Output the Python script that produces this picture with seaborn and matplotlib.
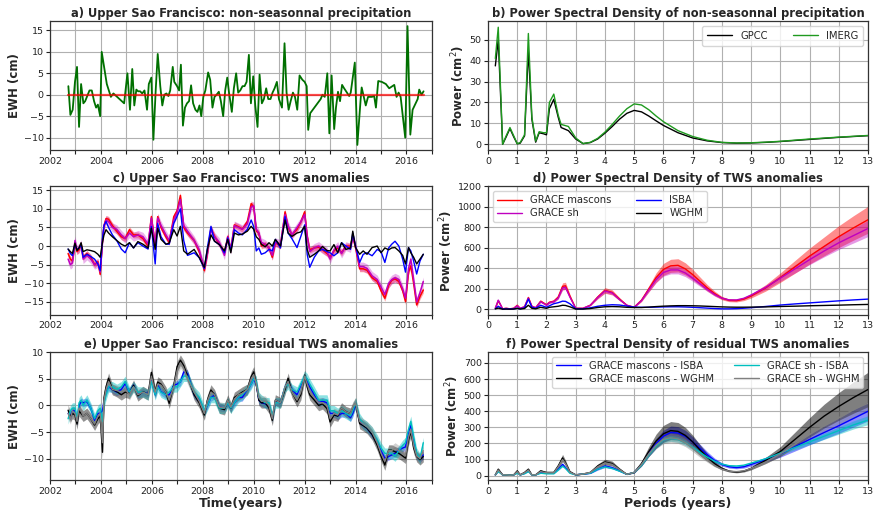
import numpy as np
import matplotlib
matplotlib.use("Agg")
import matplotlib.pyplot as plt
import seaborn as sns
from matplotlib.ticker import MultipleLocator, FuncFormatter

# ---------------- data ----------------
# a) non-seasonal precipitation (time, value)
ta = [2002.72, 2002.80, 2002.89, 2002.98, 2003.06, 2003.14, 2003.22, 2003.31, 2003.38, 2003.55,
      2003.64, 2003.73, 2003.81, 2003.88, 2003.97, 2004.03, 2004.23, 2004.39, 2004.49, 2004.91,
      2005.04, 2005.14, 2005.23, 2005.31, 2005.39, 2005.46, 2005.54, 2005.62, 2005.71, 2005.81,
      2005.88, 2005.98, 2006.06, 2006.15, 2006.23, 2006.33, 2006.41, 2006.49, 2006.57, 2006.65,
      2006.72, 2006.82, 2006.88, 2006.99, 2007.07, 2007.14, 2007.22, 2007.30, 2007.38, 2007.46,
      2007.54, 2007.62, 2007.71, 2007.79, 2007.87, 2007.94, 2008.02, 2008.10, 2008.21, 2008.29,
      2008.38, 2008.46, 2008.54, 2008.63, 2008.71, 2008.80, 2008.88, 2008.96, 2009.03, 2009.14,
      2009.22, 2009.31, 2009.39, 2009.47, 2009.56, 2009.64, 2009.72, 2009.81, 2009.89, 2009.98,
      2010.06, 2010.15, 2010.23, 2010.32, 2010.40, 2010.49, 2010.57, 2010.66, 2010.74, 2010.82,
      2010.91, 2010.99, 2011.11, 2011.21, 2011.29, 2011.37, 2011.45, 2011.54, 2011.62, 2011.71,
      2011.80, 2011.91, 2012.00, 2012.08, 2012.14, 2012.22, 2012.63, 2012.70, 2012.79, 2012.89,
      2012.97, 2013.06, 2013.16, 2013.23, 2013.31, 2013.39, 2013.47, 2013.55, 2013.75, 2013.81,
      2013.97, 2014.07, 2014.20, 2014.24, 2014.34, 2014.40, 2014.49, 2014.56, 2014.64, 2014.73,
      2014.80, 2014.89, 2015.03, 2015.19, 2015.32, 2015.52, 2015.61, 2015.69, 2015.77, 2015.95,
      2016.04, 2016.15, 2016.24, 2016.44, 2016.50, 2016.59, 2016.67]
precip = [2, -4.7, -3.5, 3, 6.5, -7.5, 2.5, -2, -1.5, 1,
          1, -1.5, -3, -2.3, -5, 10, 2.5, -0.5, 0.3, -2,
          5, -3.5, 6, -2.5, 1.2, 0.8, 0.8, 0.3, 1, -3.5,
          2.5, 4, -10.5, 1, 9.5, 2, -2.5, 0, 0.3, -0.3,
          1, 6.5, 3, 2, 1, 7, -7.2, -3, -2, -1.5,
          2.2, -2, -3.5, -4, -2.5, -5, -0.5, 1, 5.2, 3.5,
          -3, -0.5, 0, 0.7, -1.5, -5, 1, 4, 0.5, -4,
          1.5, 5, 0.5, 1, 2, 2, 3, 9.3, -2, 4.3,
          -2.5, -7.5, 4.7, -2, -1, 1.5, -1, -1, 0.5, 1.5,
          3, -1, -3, 12, 0.5, -3.5, -1.5, 0.5, -0.5, -3.5,
          4.5, 3.5, 3, 2, -8.2, -4.3, -1, 0, -0.5, 5,
          -9, 4.5, -8, -3, 0.7, -1.5, 2.3, 1.5, -0.3, 0.5,
          7.5, -11.7, -1, 1.7, -1, -2.5, -0.5, -0.5, -0.5, -0.3,
          -3, 3.2, 3, 2.5, 1.5, 2.3, -0.5, 0.5, -0.5, -10,
          16, -9.3, -3.5, -1, 1.2, 0, 0.8]

# c) & e) TWS time axis
tc = [2002.71, 2002.80, 2002.88, 2002.98, 2003.06, 2003.14, 2003.22, 2003.30, 2003.45, 2003.60,
      2003.75, 2003.88, 2003.97, 2004.06, 2004.12, 2004.20, 2004.30, 2004.45, 2004.62, 2004.80,
      2004.95, 2005.12, 2005.28, 2005.45, 2005.65, 2005.85, 2005.98, 2006.13, 2006.23, 2006.36,
      2006.55, 2006.68, 2006.86, 2006.99, 2007.12, 2007.25, 2007.40, 2007.66, 2007.86, 2008.06,
      2008.18, 2008.32, 2008.46, 2008.65, 2008.85, 2008.98, 2009.10, 2009.24, 2009.40, 2009.55,
      2009.75, 2009.90, 2010.00, 2010.10, 2010.20, 2010.30, 2010.45, 2010.60, 2010.73, 2010.85,
      2011.05, 2011.23, 2011.35, 2011.50, 2011.70, 2011.85, 2012.00, 2012.10, 2012.20, 2012.38,
      2012.55, 2012.70, 2012.88, 2013.00, 2013.15, 2013.30, 2013.45, 2013.62, 2013.80, 2013.89,
      2014.00, 2014.16, 2014.30, 2014.45, 2014.65, 2014.85, 2015.00, 2015.15, 2015.30, 2015.42,
      2015.55, 2015.70, 2015.85, 2015.96, 2016.08, 2016.17, 2016.28, 2016.40, 2016.53, 2016.66]
tws_mascons = [-2.0, -3.5, -4.0, 0.5, -1.5, -1.0, 0.5, -3.0, -2.0, -3.0,
               -5.0, -4.2, -7.6, 1.5, 5.5, 7.4, 7.2, 5.5, 4.0, 2.5,
               2.0, 4.4, 3.0, 3.0, 2.0, 0.0, 7.9, 0.0, 7.9, 5.0,
               2.5, 1.0, 7.9, 9.5, 13.6, 5.0, 3.5, 1.5, -1.5, -6.6,
               -2.0, 4.8, 2.6, 0.5, -1.8, 2.6, -1.0, 5.7, 5.2, 4.5,
               6.6, 11.4, 10.5, 4.0, 3.5, 0.0, 0.5, -0.5, -3.0, 0.9,
               0.0, 9.2, 5.0, 3.0, 4.5, 6.5, 9.2, 2.6, -1.0, -0.5,
               -0.3, -1.0, -2.0, -3.0, -1.3, -0.5, -1.8, 0.0, 0.0, 2.6,
               -0.5, -6.1, -6.1, -6.5, -8.5, -9.5, -12.0, -14.0, -10.5, -9.2,
               -8.8, -9.5, -12.0, -14.9, -7.0, -5.3, -10.0, -15.8, -13.5, -11.8]
tws_sh = [-3.5, -5.0, -4.5, 1.5, -1.0, -0.5, 0.5, -3.5, -2.5, -3.5,
          -5.0, -4.5, -7.0, 1.0, 5.5, 7.0, 6.5, 5.0, 4.5, 3.0,
          2.0, 3.5, 2.5, 3.0, 2.5, 0.5, 7.5, 0.5, 7.5, 5.5,
          3.0, 1.5, 7.0, 9.0, 12.5, 5.5, 4.0, 1.5, -1.0, -6.0,
          -2.0, 4.5, 2.5, 1.0, -2.5, 2.5, -1.0, 5.5, 5.0, 4.5,
          6.0, 10.5, 10.8, 4.5, 3.5, 1.0, 0.5, -0.5, -2.5, 1.0,
          0.5, 8.5, 5.5, 3.0, 5.0, 6.5, 8.5, 2.5, -1.5, -0.5,
          0.0, -0.8, -1.5, -3.5, -1.0, 0.0, -2.0, 0.0, -0.5, 2.5,
          0.0, -5.5, -5.5, -6.0, -8.0, -9.0, -11.0, -13.0, -10.0, -9.0,
          -8.5, -9.0, -11.5, -14.0, -6.0, -3.5, -9.0, -15.0, -12.5, -9.5]
tws_isba = [-0.8, -2.0, -2.6, 0.5, -1.0, -0.5, 0.3, -3.0, -2.2, -2.8,
            -3.5, -4.8, -6.6, 2.0, 5.5, 6.6, 5.0, 3.0, 1.5, -0.8,
            -1.8, 0.9, -0.5, 0.9, 0.0, -0.8, 5.3, -4.8, 6.1, 2.5,
            0.5, 0.5, 6.1, 8.0, 10.0, 1.5, -2.5, -1.8, -3.1, -6.1,
            -0.5, 5.3, 1.3, 0.4, -1.8, 2.2, -1.3, 4.4, 3.5, 3.0,
            4.5, 7.0, 5.2, -1.3, -0.5, -2.2, -1.8, -0.9, -1.3, 1.8,
            -0.5, 7.9, 3.5, 2.0, -0.4, 2.6, 5.7, -2.2, -5.7, -3.0,
            -1.3, -0.9, -1.5, -1.8, -2.6, -1.8, 0.9, 0.0, -0.9, 3.5,
            0.0, -4.4, -2.2, -1.8, -2.6, -0.9, -1.5, -4.4, -0.5, 0.5,
            1.3, 0.0, -3.5, -7.0, -0.4, -1.3, -4.0, -7.5, -4.0, -2.2]
tws_wghm = [-0.8, -1.5, -2.0, 0.8, -1.2, -0.5, 0.9, -1.5, -1.0, -1.2,
            -1.5, -2.2, -3.0, 1.0, 3.0, 4.4, 3.5, 2.5, 1.5, 0.5,
            0.0, 0.9, -0.5, 1.2, 0.5, -0.5, 4.8, -0.9, 4.8, 1.8,
            0.5, 0.8, 4.4, 2.7, 5.3, -1.3, -2.2, -0.9, -3.1, -5.7,
            -0.9, 3.0, 1.3, 0.4, -1.3, 1.8, -1.8, 3.5, 3.0, 3.2,
            4.0, 5.3, 4.5, 2.5, 1.8, 0.5, -0.2, 0.9, 0.0, 1.8,
            0.0, 7.0, 3.5, 2.6, 3.5, 3.8, 5.3, -0.9, -3.0, -2.2,
            -1.3, -0.1, -1.2, -1.3, 0.4, -1.8, 0.9, -0.9, -0.5, 4.0,
            -0.4, -2.2, -1.3, -2.2, -0.4, 0.0, -1.8, -0.5, -1.0, -0.5,
            -0.4, -1.3, -2.5, -4.8, -0.4, -1.8, -3.0, -4.8, -3.5, -2.2]
unc_mascons, unc_sh = 0.8, 1.2

res_masc_isba = [-1.5, -2.0, -1.0, -1.0, -3.1, 0.0, 0.7, 0.5, 0.7, -0.5,
                 -2.8, -1.5, -1.5, -1.0, 1.0, 2.6, 3.5, 3.0, 2.5, 3.0,
                 4.1, 2.5, 3.8, 2.0, 2.5, 2.2, 4.8, 2.0, 3.8, 2.6,
                 2.0, 2.0, 3.8, 4.0, 4.4, 6.3, 6.0, 2.0, 1.0, -1.2,
                 0.0, 1.5, 1.9, -0.3, -0.5, 0.5, -0.5, 0.5, 1.5, 1.5,
                 3.0, 4.0, 5.0, 4.0, 1.0, 0.5, 0.3, 0.0, -2.4, 0.7,
                 0.5, 3.5, 4.4, 3.0, 2.0, 3.8, 5.4, 4.5, 3.5, 2.0,
                 0.5, 0.8, 0.5, -1.5, -1.5, -2.0, -1.5, -1.5, -2.3, -1.5,
                 0.3, -3.0, -3.7, -4.3, -5.5, -6.8, -8.5, -9.9, -9.6, -9.3,
                 -9.0, -8.4, -8.0, -7.8, -5.0, -3.7, -6.5, -9.5, -10.0, -9.3]
res_masc_wghm = [-0.9, -2.1, -1.5, -1.8, -3.5, -1.0, -1.5, -2.0, -1.5, -2.5,
                 -3.7, -2.5, -2.0, -8.8, 1.5, 3.5, 5.1, 3.0, 2.6, 2.0,
                 2.5, 2.3, 3.8, 1.8, 2.6, 2.0, 6.2, 2.6, 4.4, 4.0,
                 2.5, 0.4, 3.8, 7.3, 8.5, 7.5, 5.5, 2.0, 0.5, -1.8,
                 1.0, 2.9, 2.0, -0.5, -0.8, 1.0, -0.5, 1.5, 2.0, 2.5,
                 3.0, 5.4, 6.3, 4.0, 1.0, 0.5, 0.5, -0.5, -2.8, 1.0,
                 0.5, 3.0, 5.1, 2.5, 0.7, 2.0, 5.7, 3.5, 2.0, 1.0,
                 0.0, 0.3, -0.6, -3.1, -1.8, -2.0, -0.5, -1.2, -1.5, -0.5,
                 0.4, -3.4, -3.8, -4.3, -5.5, -7.5, -9.5, -11.2, -8.4, -8.4,
                 -8.7, -9.0, -9.5, -9.9, -6.5, -4.9, -8.0, -9.6, -10.2, -9.6]
res_sh_isba = [-2.5, -1.0, -0.5, -0.5, -2.5, 0.5, 1.0, 0.0, 1.0, -0.5,
               -2.5, -1.0, -0.5, -3.0, 0.5, 2.0, 3.5, 3.5, 3.0, 3.5,
               4.5, 2.5, 3.5, 2.5, 2.5, 2.0, 4.5, 2.0, 3.5, 2.5,
               2.0, 2.5, 3.5, 3.5, 4.5, 5.5, 5.5, 2.5, 1.5, -1.0,
               0.0, 1.5, 1.5, -0.5, -0.5, 0.5, -0.5, 0.5, 1.5, 2.0,
               3.0, 4.0, 5.0, 4.5, 1.5, 1.0, 0.5, 0.5, -2.0, 0.5,
               0.5, 3.5, 4.0, 3.0, 2.5, 4.0, 5.5, 5.0, 4.0, 2.5,
               1.0, 1.0, 1.0, -1.0, -1.0, -1.5, -1.0, -1.5, -2.0, -1.0,
               0.5, -2.5, -3.5, -4.0, -5.0, -6.5, -8.0, -9.0, -9.0, -9.0,
               -9.5, -8.5, -7.5, -7.0, -4.5, -3.0, -6.0, -9.0, -10.0, -7.0]
res_sh_wghm = [-1.5, -2.5, -1.0, -1.5, -3.0, -0.5, -1.0, -2.0, -1.5, -2.5,
               -3.5, -2.0, -1.5, -7.0, 1.0, 3.0, 4.5, 3.0, 2.8, 2.5,
               3.0, 2.0, 3.5, 2.0, 2.5, 2.0, 5.5, 2.5, 4.0, 3.8,
               2.5, 1.0, 3.5, 6.5, 8.0, 7.0, 5.0, 2.5, 0.8, -1.5,
               0.8, 2.5, 2.0, -0.3, -0.5, 1.0, -0.3, 1.2, 2.0, 2.3,
               3.0, 5.0, 5.8, 4.0, 1.5, 0.8, 0.8, 0.0, -2.5, 1.0,
               0.5, 3.5, 4.5, 2.5, 1.0, 2.5, 5.5, 4.0, 2.5, 1.5,
               0.5, 0.5, 0.0, -2.5, -1.5, -1.8, -0.5, -1.2, -1.5, -0.3,
               0.5, -3.0, -3.5, -4.0, -5.0, -7.0, -9.0, -10.5, -8.5, -8.5,
               -8.0, -8.5, -9.0, -9.5, -6.0, -4.5, -7.5, -9.5, -10.0, -8.5]
unc_res = [0.7, 1.0, 1.0, 1.0]

# b) PSD precipitation
pb = [0.25, 0.35, 0.5, 0.62, 0.75, 0.88, 1.0, 1.1, 1.25, 1.38,
      1.5, 1.63, 1.75, 1.9, 2.0, 2.1, 2.25, 2.4, 2.5, 2.75,
      3.0, 3.25, 3.5, 3.75, 4.0, 4.25, 4.5, 4.75, 5.0, 5.25,
      5.5, 5.75, 6.0, 6.5, 7.0, 7.5, 8.0, 8.5, 9.0, 9.5,
      10, 11, 12, 13]
psd_gpcc = [37.5, 50, 0, 3.5, 7.5, 3.5, 0.2, 0.5, 4, 45,
            12, 1, 5.5, 5, 4.5, 17, 21.5, 13, 8, 6.5,
            2.5, 0.3, 0.8, 2.5, 5.3, 8.5, 12, 14.8, 16.2, 15.5,
            13.5, 11.2, 9, 5.5, 3, 1.6, 0.8, 0.5, 0.6, 0.9,
            1.3, 2.3, 3.3, 4.1]
psd_imerg = [41, 56, 0, 4, 8, 4, 0.2, 0.8, 4.5, 53,
             13, 1.5, 6, 5.5, 5.5, 20, 24, 14, 9.5, 8.5,
             3, 0.3, 0.9, 2.8, 5.8, 9.5, 13.5, 17, 19.3, 18.8,
             16.5, 13.5, 10.8, 6.5, 3.7, 1.9, 0.9, 0.6, 0.7, 1.0,
             1.4, 2.5, 3.4, 4.2]

# d) & f) PSD TWS
pd_ = [0.25, 0.35, 0.5, 0.62, 0.75, 0.88, 1.0, 1.1, 1.25, 1.38,
       1.5, 1.63, 1.8, 2.0, 2.1, 2.25, 2.4, 2.55, 2.65, 2.8,
       3.0, 3.25, 3.5, 3.75, 4.0, 4.25, 4.5, 4.75, 5.0, 5.25,
       5.5, 5.75, 6.0, 6.25, 6.5, 6.75, 7.0, 7.25, 7.5, 7.75,
       8.0, 8.25, 8.5, 8.75, 9.0, 9.5, 10.0, 10.5, 11.0, 11.5,
       12.0, 12.5, 13.0]
psd_mascons = [10, 85, 5, 10, 5, 10, 40, 10, 25, 115,
               30, 15, 80, 45, 70, 80, 120, 225, 230, 130,
               10, 10, 40, 120, 185, 165, 100, 40, 20, 90,
               200, 310, 390, 425, 430, 395, 340, 275, 210, 155,
               110, 88, 85, 100, 130, 210, 310, 415, 520, 615,
               710, 795, 875]
psd_sh = [10, 90, 5, 10, 5, 10, 35, 10, 25, 110,
          30, 15, 75, 40, 65, 75, 110, 210, 215, 120,
          10, 10, 40, 115, 180, 160, 95, 40, 20, 85,
          190, 290, 360, 385, 385, 355, 305, 250, 195, 145,
          110, 92, 92, 108, 140, 215, 305, 395, 485, 570,
          650, 720, 790]
psd_isba = [5, 30, 2, 5, 3, 5, 10, 5, 15, 100,
            20, 10, 40, 20, 35, 55, 65, 80, 78, 55,
            5, 5, 15, 30, 40, 45, 42, 32, 22, 20,
            20, 22, 24, 25, 25, 23, 20, 16, 12, 8,
            5, 5, 7, 11, 16, 28, 42, 53, 63, 73,
            83, 92, 100]
psd_wghm = [5, 12, 2, 3, 2, 3, 10, 3, 8, 40,
            10, 5, 20, 10, 20, 25, 30, 40, 38, 25,
            3, 3, 8, 18, 25, 27, 25, 20, 18, 18,
            22, 27, 31, 34, 36, 36, 35, 33, 30, 27,
            24, 22, 21, 21, 22, 24, 28, 31, 35, 38,
            41, 45, 48]
psd_rel_unc_d = [0.15, 0.10]

psd_res_masc_isba = [5, 30, 5, 5, 3, 5, 20, 5, 15, 30,
                     5, 5, 20, 15, 15, 15, 40, 70, 50, 20,
                     5, 10, 15, 40, 60, 50, 30, 8, 20, 70,
                     140, 200, 245, 268, 265, 245, 210, 170, 130, 95,
                     70, 55, 50, 55, 70, 100, 135, 180, 225, 268,
                     310, 355, 400]
psd_res_masc_wghm = [5, 40, 5, 5, 3, 5, 30, 5, 20, 40,
                     5, 5, 30, 20, 20, 20, 60, 110, 80, 25,
                     5, 10, 20, 60, 85, 75, 40, 8, 20, 75,
                     150, 215, 260, 280, 275, 250, 210, 160, 115, 75,
                     45, 28, 22, 28, 45, 95, 150, 225, 300, 370,
                     430, 485, 535]
psd_res_sh_isba = [5, 25, 5, 5, 3, 5, 15, 5, 12, 25,
                   5, 5, 15, 12, 12, 12, 35, 60, 45, 15,
                   5, 10, 15, 40, 55, 45, 28, 8, 20, 65,
                   130, 185, 222, 232, 225, 205, 175, 145, 115, 90,
                   72, 62, 60, 65, 78, 105, 140, 175, 210, 245,
                   280, 315, 345]
psd_res_sh_wghm = [5, 35, 5, 5, 3, 5, 25, 5, 18, 35,
                   5, 5, 25, 18, 18, 18, 55, 100, 75, 22,
                   5, 10, 20, 55, 80, 70, 38, 8, 20, 70,
                   135, 190, 225, 235, 228, 205, 170, 130, 95, 62,
                   40, 28, 25, 30, 45, 85, 135, 195, 255, 310,
                   360, 410, 450]
psd_rel_unc_f = [0.15, 0.20, 0.08, 0.12]

# ---------------- style ----------------
sns.set_theme(style="ticks", color_codes=False)
plt.rcParams['font.family'] = ['DejaVu Sans']
plt.rcParams['axes.edgecolor'] = '#333333'
plt.rcParams['axes.linewidth'] = 0.9

RED, MAG, BLUE, BLACK = '#ff0000', '#bf00bf', '#0000ff', '#000000'
GREEN_A, GREEN_B = '#007000', '#1f9a1f'
CYAN, GRAY = '#00bfbf', '#808080'

TICK_FS, TITLE_FS, LAB_FS, LEG_FS = 6.8, 8.3, 8.5, 7.2

fig = plt.figure(figsize=(8.76, 5.14), dpi=100)
L1, W1 = 0.0571, 0.436
L2, W2 = 0.5571, 0.4338
rows = [(0.7072, 0.252), (0.3872, 0.250), (0.0652, 0.2506)]
axa = fig.add_axes([L1, rows[0][0], W1, rows[0][1]])
axb = fig.add_axes([L2, rows[0][0], W2, rows[0][1]])
axc = fig.add_axes([L1, rows[1][0], W1, rows[1][1]])
axd = fig.add_axes([L2, rows[1][0], W2, rows[1][1]])
axe = fig.add_axes([L1, rows[2][0], W1, rows[2][1]])
axf = fig.add_axes([L2, rows[2][0], W2, rows[2][1]])


def line(ax, x, y, color, lw=1.0, label=None, alpha=1.0, z=3):
    kw = dict(x=np.asarray(x, float), y=np.asarray(y, float), ax=ax, color=color,
              linewidth=lw, alpha=alpha, sort=False, estimator=None, zorder=z)
    if label is not None:
        kw['label'] = label
    sns.lineplot(**kw)


def band(ax, x, y, half, color, alpha, z=2):
    y = np.asarray(y, float)
    h = np.asarray(half, float)
    ax.fill_between(np.asarray(x, float), y - h, y + h, color=color, alpha=alpha,
                    linewidth=0, zorder=z)


def style_time(ax, ylim, yticks):
    ax.set_xlim(2002, 2017)
    ax.set_ylim(*ylim)
    ax.set_yticks(yticks)
    ax.xaxis.set_major_locator(MultipleLocator(1))
    ax.xaxis.set_major_formatter(FuncFormatter(lambda v, p: f"{int(round(v))}" if int(round(v)) % 2 == 0 else ""))
    ax.set_ylabel("EWH (cm)", fontsize=LAB_FS, fontweight='bold', labelpad=2)
    ax.set_xlabel("")


def style_psd(ax, ylim, yticks):
    ax.set_xlim(0, 13)
    ax.set_ylim(*ylim)
    ax.set_yticks(yticks)
    ax.xaxis.set_major_locator(MultipleLocator(1))
    ax.set_ylabel("Power (cm$^2$)", fontsize=LAB_FS, fontweight='bold', labelpad=2)
    ax.set_xlabel("")


for ax in (axa, axb, axc, axd, axe, axf):
    ax.grid(True, color='#b0b0b0', linewidth=0.8, zorder=0)
    ax.set_axisbelow(True)
    ax.tick_params(labelsize=TICK_FS, length=3, width=0.8, pad=1.5, colors='#222222')

# a)
line(axa, ta, precip, GREEN_A, lw=1.3)
line(axa, [ta[0], ta[-1]], [0, 0], RED, lw=1.6, alpha=0.7, z=4)
style_time(axa, (-13, 17.2), [-10, -5, 0, 5, 10, 15])
axa.set_title("a) Upper Sao Francisco: non-seasonnal precipitation",
              fontsize=TITLE_FS, fontweight='bold', pad=3)

# b)
line(axb, pb, psd_gpcc, BLACK, lw=1.0, label='GPCC')
line(axb, pb, psd_imerg, GREEN_B, lw=1.0, label='IMERG')
style_psd(axb, (-3, 59), [0, 10, 20, 30, 40, 50])
axb.legend(loc='upper right', ncol=2, fontsize=LEG_FS, frameon=True, handlelength=2.5,
           columnspacing=2.5, borderpad=0.5)
axb.set_title("b) Power Spectral Density of non-seasonnal precipitation",
              fontsize=TITLE_FS, fontweight='bold', pad=3)

# c)
band(axc, tc, tws_mascons, unc_mascons, RED, 0.35)
band(axc, tc, tws_sh, unc_sh, MAG, 0.3)
line(axc, tc, tws_mascons, RED, lw=1.1)
line(axc, tc, tws_sh, MAG, lw=1.1)
line(axc, tc, tws_isba, BLUE, lw=1.0)
line(axc, tc, tws_wghm, BLACK, lw=1.0)
style_time(axc, (-18.5, 16), [-15, -10, -5, 0, 5, 10, 15])
axc.set_title("c) Upper Sao Francisco: TWS anomalies",
              fontsize=TITLE_FS, fontweight='bold', pad=3)

# d)
pm = np.asarray(psd_mascons, float)
ps = np.asarray(psd_sh, float)
band(axd, pd_, pm, pm * psd_rel_unc_d[0], RED, 0.45)
band(axd, pd_, ps, ps * psd_rel_unc_d[1], MAG, 0.4)
line(axd, pd_, psd_mascons, RED, lw=1.0, label='GRACE mascons')
line(axd, pd_, psd_sh, MAG, lw=1.0, label='GRACE sh')
line(axd, pd_, psd_isba, BLUE, lw=1.0, label='ISBA')
line(axd, pd_, psd_wghm, BLACK, lw=1.0, label='WGHM')
style_psd(axd, (-55, 1200), [0, 200, 400, 600, 800, 1000, 1200])
axd.legend(loc='upper left', ncol=2, fontsize=LEG_FS, frameon=True, handlelength=2.5,
           columnspacing=2.5, borderpad=0.4, labelspacing=0.3)
axd.set_title("d) Power Spectral Density of TWS anomalies",
              fontsize=TITLE_FS, fontweight='bold', pad=3)

# e)
res_series = [res_masc_isba, res_masc_wghm, res_sh_isba, res_sh_wghm]
res_colors = [BLUE, BLACK, CYAN, GRAY]
res_band_alpha = [0.35, 0.4, 0.45, 0.35]
for s, c, u, a in zip(res_series, res_colors, unc_res, res_band_alpha):
    band(axe, tc, s, u, c, a)
for s, c in zip(res_series, res_colors):
    line(axe, tc, s, c, lw=1.0)
style_time(axe, (-14.1, 10.1), [-10, -5, 0, 5, 10])
axe.set_xlabel("Time(years)", fontsize=9, fontweight='bold', labelpad=1)
axe.set_title("e) Upper Sao Francisco: residual TWS anomalies",
              fontsize=TITLE_FS, fontweight='bold', pad=3)

# f)
psd_res = [psd_res_masc_isba, psd_res_masc_wghm, psd_res_sh_isba, psd_res_sh_wghm]
psd_labels = ['GRACE mascons - ISBA', 'GRACE mascons - WGHM', 'GRACE sh - ISBA', 'GRACE sh - WGHM']
f_band_alpha = [0.45, 0.5, 0.45, 0.4]
for s, c, r, a in zip(psd_res, res_colors, psd_rel_unc_f, f_band_alpha):
    v = np.asarray(s, float)
    band(axf, pd_, v, v * r, c, a)
for s, c, lab in zip(psd_res, res_colors, psd_labels):
    line(axf, pd_, s, c, lw=1.0, label=lab)
style_psd(axf, (-30, 770), [0, 100, 200, 300, 400, 500, 600, 700])
axf.legend(loc='upper right', ncol=2, fontsize=LEG_FS, frameon=True, handlelength=2.5,
           columnspacing=2.0, borderpad=0.4, labelspacing=0.3)
axf.set_xlabel("Periods (years)", fontsize=9, fontweight='bold', labelpad=1)
axf.set_title("f) Power Spectral Density of residual TWS anomalies",
              fontsize=TITLE_FS, fontweight='bold', pad=3)

fig.savefig("out.png", dpi=100)
